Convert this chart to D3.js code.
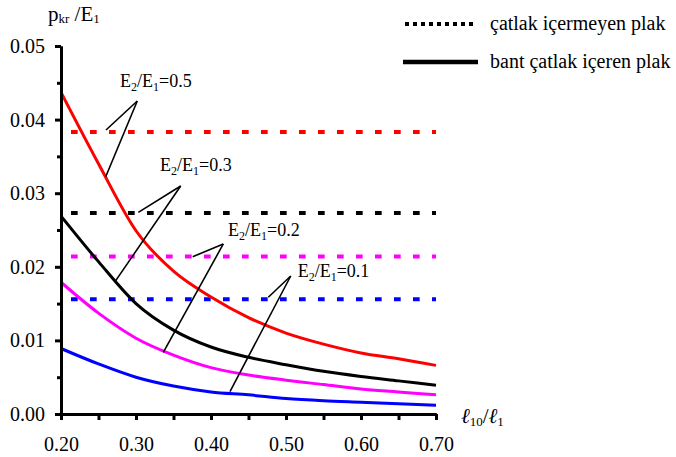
<!DOCTYPE html>
<html>
<head>
<meta charset="utf-8">
<script src="https://cdn.jsdelivr.net/npm/d3@7"></script>
<style>
  body { margin: 0; background: #fff; }
  svg text { font-family: "Liberation Serif", "Times New Roman", "DejaVu Serif", serif !important; fill: #000; }
</style>
</head>
<body>
<div id="wrapper"></div>
<script>
// x values (l10/l1)
const xValues = [0.20, 0.25, 0.30, 0.35, 0.40, 0.45, 0.50, 0.55, 0.60, 0.65, 0.70];
// bant catlak iceren plak (solid curves)
const red     = [0.0437, 0.0340, 0.0249, 0.0194, 0.0159, 0.0131, 0.0110, 0.0095, 0.0083, 0.0075, 0.0066];
const black   = [0.0269, 0.0207, 0.0150, 0.0114, 0.0091, 0.0077, 0.0067, 0.0058, 0.0051, 0.0045, 0.0039];
const magenta = [0.0179, 0.0137, 0.0103, 0.0080, 0.0063, 0.0053, 0.0046, 0.0040, 0.0034, 0.0030, 0.0026];
const blue    = [0.0089, 0.0068, 0.0050, 0.0038, 0.0030, 0.0026, 0.0021, 0.0018, 0.0016, 0.0014, 0.0012];
// catlak icermeyen plak (dashed levels)
const levels = [0.0383, 0.0273, 0.0214, 0.0156];
const levelStart = 0.2133;
const ratios = ["0.5", "0.3", "0.2", "0.1"];
const colors = ["#ff0000", "#000000", "#ff00ff", "#0000ff"];
const yTicks = [0, 0.01, 0.02, 0.03, 0.04, 0.05];
const xTicks = [0.20, 0.30, 0.40, 0.50, 0.60, 0.70];
// label anchor, leader apex, end on dashed line, end on curve (data units)
const labelPos = [[0.2787, 0.04439], [0.332, 0.03306], [0.4227, 0.02418], [0.5156, 0.01861]];
const apexPos  = [[0.3017, 0.04253], [0.3596, 0.03098], [0.4164, 0.0231], [0.5063, 0.01875]];
const endLevel = [[0.2600, 0.03859], [0.3031, 0.0274], [0.3756, 0.02137], [0.4764, 0.01586]];
const endCurve = [[0.2596, 0.03224], [0.2720, 0.01798], [0.3364, 0.00838], [0.4253, 0.00305]];

const series = [red, black, magenta, blue];
const serif = '"Liberation Serif", "Times New Roman", "DejaVu Serif", serif';

let dimensions = {
  width: 676,
  height: 457,
  margin: { top: 46, left: 61, bottom: 43, right: 240 }
};
dimensions.boundedWidth = dimensions.width - dimensions.margin.left - dimensions.margin.right;
dimensions.boundedHeight = dimensions.height - dimensions.margin.top - dimensions.margin.bottom;

const svg = d3.select("#wrapper").append("svg")
  .attr("width", dimensions.width)
  .attr("height", dimensions.height)
  .attr("font-family", serif);
const g = svg.append("g")
  .attr("transform", `translate(${dimensions.margin.left},${dimensions.margin.top})`);

const xScale = d3.scaleLinear().domain([0.2, 0.7]).range([0, dimensions.boundedWidth]);
const yScale = d3.scaleLinear().domain([0, 0.05]).range([dimensions.boundedHeight, 0]);

// dashed levels
g.selectAll(".level").data(levels).enter().append("line")
  .attr("x1", xScale(levelStart)).attr("x2", xScale(0.7))
  .attr("y1", d => yScale(d)).attr("y2", d => yScale(d))
  .attr("stroke", (d, i) => colors[i])
  .attr("stroke-width", 4)
  .attr("stroke-dasharray", "6.7,12.3");

// curves
const line = d3.line()
  .x((d, i) => xScale(xValues[i]))
  .y(d => yScale(d))
  .curve(d3.curveMonotoneX);
g.selectAll(".curve").data(series).enter().append("path")
  .attr("d", line)
  .attr("fill", "none")
  .attr("stroke", (d, i) => colors[i])
  .attr("stroke-width", 3);

// leader lines + labels
labelPos.forEach((p, i) => {
  [endLevel[i], endCurve[i]].forEach(e => {
    g.append("line")
      .attr("x1", xScale(apexPos[i][0])).attr("y1", yScale(apexPos[i][1]))
      .attr("x2", xScale(e[0])).attr("y2", yScale(e[1]))
      .attr("stroke", "#000").attr("stroke-width", 1.6);
  });
  const t = g.append("text")
    .attr("x", xScale(p[0])).attr("y", yScale(p[1]))
    .style("font-family", serif)
    .style("font-size", "18px");
  t.append("tspan").text("E");
  t.append("tspan").text("2").style("font-size", "12px").attr("dy", 4);
  t.append("tspan").text("/E").attr("dy", -4);
  t.append("tspan").text("1").style("font-size", "12px").attr("dy", 4);
  t.append("tspan").text("=" + ratios[i]).attr("dy", -4);
});

// axes
const yAxis = g.append("g")
  .call(d3.axisLeft(yScale).tickValues(yTicks).tickFormat(d3.format(".2f")).tickSize(6).tickSizeOuter(0).tickPadding(10));
const yMinor = g.append("g")
  .call(d3.axisLeft(yScale).tickValues(d3.range(0.005, 0.05, 0.01)).tickFormat("").tickSize(4).tickSizeOuter(0));
const xAxis = g.append("g")
  .attr("transform", `translate(0,${dimensions.boundedHeight})`)
  .call(d3.axisBottom(xScale).tickValues(xTicks).tickFormat(d3.format(".2f")).tickSize(6).tickSizeOuter(0).tickPadding(17));
const xMinor = g.append("g")
  .attr("transform", `translate(0,${dimensions.boundedHeight})`)
  .call(d3.axisBottom(xScale).tickValues(d3.range(0.25, 0.7, 0.1)).tickFormat("").tickSize(6).tickSizeOuter(0));
[yAxis, yMinor, xAxis, xMinor].forEach(a => {
  a.attr("font-family", serif);
  a.select(".domain").attr("stroke-width", 3).attr("stroke", "#000");
  a.selectAll(".tick line").attr("stroke-width", 3).attr("stroke", "#000");
  a.selectAll("text").style("font-size", "20px").style("font-family", serif).style("fill", "#000");
});

// axis titles
const yTitle = svg.append("text").attr("x", 48).attr("y", 21)
  .style("font-family", serif).style("font-size", "21px");
yTitle.append("tspan").text("p");
yTitle.append("tspan").text("kr").style("font-size", "13px").attr("dy", 2);
yTitle.append("tspan").text(" /E").attr("dy", -2);
yTitle.append("tspan").text("1").style("font-size", "13px").attr("dy", 2);

const xTitle = svg.append("text").attr("x", 461).attr("y", 423)
  .style("font-family", serif).style("font-size", "21px");
xTitle.append("tspan").text("ℓ").style("font-style", "italic");
xTitle.append("tspan").text("10").style("font-size", "13px").attr("dy", 3);
xTitle.append("tspan").text("/").attr("dy", -3);
xTitle.append("tspan").text("ℓ").style("font-style", "italic");
xTitle.append("tspan").text("1").style("font-size", "13px").attr("dy", 3);

// legend
const legend = svg.append("g");
legend.append("line").attr("x1", 405).attr("x2", 477).attr("y1", 24).attr("y2", 24)
  .attr("stroke", "#000").attr("stroke-width", 4).attr("stroke-dasharray", "4,4");
legend.append("line").attr("x1", 403).attr("x2", 478).attr("y1", 62).attr("y2", 62)
  .attr("stroke", "#000").attr("stroke-width", 4.5);
legend.append("text").attr("x", 490).attr("y", 30)
  .style("font-family", serif).style("font-size", "20px").text("çatlak içermeyen plak");
legend.append("text").attr("x", 490).attr("y", 68)
  .style("font-family", serif).style("font-size", "20px").text("bant çatlak içeren plak");
</script>
</body>
</html>
